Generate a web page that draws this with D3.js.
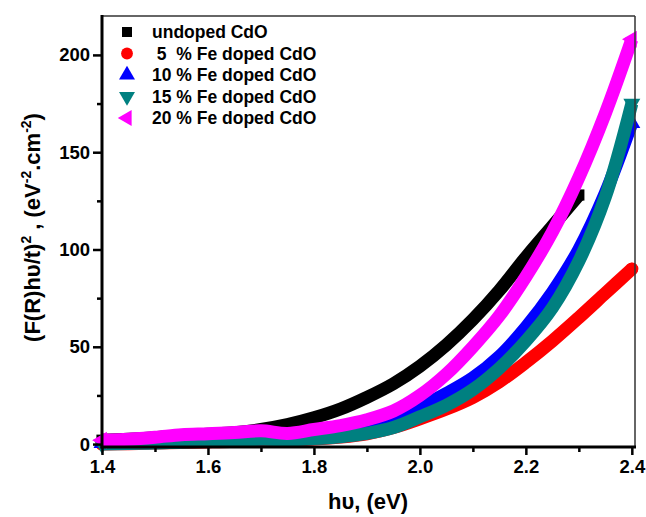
<!DOCTYPE html>
<html>
<head>
<meta charset="utf-8">
<script src="https://cdn.jsdelivr.net/npm/d3@7/dist/d3.min.js"></script>
<style>
  html, body { margin: 0; padding: 0; background: #fff; }
  svg { display: block; font-family: "Liberation Sans", Arial, sans-serif; font-weight: bold; }
  text { white-space: pre; }
</style>
</head>
<body>
<svg id="chart" width="646" height="517"></svg>
<script>
// ---------------- DATA ----------------
const hv = [1.40, 1.45, 1.50, 1.55, 1.60, 1.65, 1.70, 1.75, 1.80, 1.85, 1.90,
            1.95, 2.00, 2.05, 2.10, 2.15, 2.20, 2.25, 2.30, 2.35, 2.40];

const undopedCdO = [2.0, 2.5, 3.3, 4.3, 5.0, 5.8, 7.5, 10.0, 13.5, 18, 24,
                    31, 40, 51, 64, 79, 96, 112, 128, null, null];
const fe5CdO     = [0, 0.2, 0.5, 0.8, 1.1, 1.5, 2.2, 2.0, 2.6, 3.6, 5.3,
                    8.5, 13, 18, 24, 32, 42, 53, 65, 77.5, 90];
const fe10CdO    = [0.5, 0.8, 1.0, 1.3, 1.6, 2.0, 2.8, 2.8, 3.8, 5.5, 8.5,
                    13, 19, 26, 34, 45, 60, 78, 100, 129, 165];
const fe15CdO    = [0, 0.3, 0.5, 1.0, 1.3, 1.7, 2.5, 2.2, 2.8, 3.8, 5.5,
                    8.5, 14, 20, 28, 39, 53, 70, 94, 127, 175];
const fe20CdO    = [2.0, 2.5, 3.5, 4.8, 5.3, 5.9, 6.8, 5.5, 7.5, 9.5, 12.5,
                    17, 25, 36, 50, 66, 86, 109, 137, 170, 208];

const seriesLabels = ["undoped CdO", " 5  % Fe doped CdO", "10 % Fe doped CdO",
                      "15 % Fe doped CdO", "20 % Fe doped CdO"];
const seriesValues = [undopedCdO, fe5CdO, fe10CdO, fe15CdO, fe20CdO];

const xTicks = [1.4, 1.6, 1.8, 2.0, 2.2, 2.4];
const xMinorTicks = [1.5, 1.7, 1.9, 2.1, 2.3];
const yTicks = [0, 50, 100, 150, 200];
const yMinorTicks = [25, 75, 125, 175];

// ---------------- STYLE / LAYOUT ----------------
const colors = ["#000000", "#ff0000", "#0000ff", "#008080", "#ff00ff"];
const symbols = [
  {type: d3.symbolSquare,   rot: 0},
  {type: d3.symbolCircle,   rot: 0},
  {type: d3.symbolTriangle, rot: 0},
  {type: d3.symbolTriangle, rot: 180},
  {type: d3.symbolTriangle, rot: -90}
];

const L = 102, R = 635, T = 16, B = 447;
const svg = d3.select("#chart");

const x = d3.scaleLinear().domain([1.4, 2.406]).range([L, R]);
const y = d3.scaleLinear().domain([-1.5, 220]).range([B, T]);

// ---------------- BANDS ----------------
const bandWidth = 13;
const gData = svg.append("g");
seriesValues.forEach((vals, i) => {
  const pts = hv.map((h, j) => [h, vals[j]]).filter(d => d[1] !== null);
  const line = d3.line()
    .x(d => x(d[0]))
    .y(d => y(d[1]))
    .curve(d3.curveCatmullRom.alpha(0.5));
  gData.append("path")
    .attr("d", line(pts))
    .attr("fill", "none")
    .attr("stroke", colors[i])
    .attr("stroke-width", bandWidth)
    .attr("stroke-linejoin", "round")
    .attr("stroke-linecap", i === 1 ? "round" : "butt");
  [pts[0], pts[pts.length - 1]].forEach(p => {
    gData.append("path")
      .attr("d", d3.symbol().type(symbols[i].type).size(125)())
      .attr("transform", `translate(${x(p[0])},${y(p[1])}) rotate(${symbols[i].rot})`)
      .attr("fill", colors[i]);
  });
});

// ---------------- AXES ----------------
const xAxis = svg.append("g")
  .attr("transform", `translate(0,${B})`)
  .call(d3.axisBottom(x).tickValues(xTicks).tickFormat(d3.format(".1f"))
        .tickSize(8).tickPadding(5));
const xMinor = svg.append("g")
  .attr("transform", `translate(0,${B})`)
  .call(d3.axisBottom(x).tickValues(xMinorTicks).tickFormat("").tickSize(5));
const yAxis = svg.append("g")
  .attr("transform", `translate(${L},0)`)
  .call(d3.axisLeft(y).tickValues(yTicks).tickFormat(d3.format("d"))
        .tickSize(9).tickPadding(3));
const yMinor = svg.append("g")
  .attr("transform", `translate(${L},0)`)
  .call(d3.axisLeft(y).tickValues(yMinorTicks).tickFormat("").tickSize(5));

[xAxis, xMinor, yAxis, yMinor].forEach(g => {
  g.select(".domain").remove();
  g.selectAll(".tick line").attr("stroke", "#000").attr("stroke-width", 2.5);
  g.selectAll(".tick text")
    .attr("fill", "#000")
    .style("font-family", "'Liberation Sans', Arial, sans-serif")
    .style("font-weight", "bold")
    .style("font-size", "18.5px");
});

// frame
svg.append("line").attr("x1", L).attr("x2", R).attr("y1", T).attr("y2", T)
  .attr("stroke", "#333").attr("stroke-width", 1.5);
svg.append("line").attr("x1", R).attr("x2", R).attr("y1", T).attr("y2", B)
  .attr("stroke", "#333").attr("stroke-width", 1.5);
svg.append("line").attr("x1", L).attr("x2", L).attr("y1", T - 1).attr("y2", B + 1.5)
  .attr("stroke", "#000").attr("stroke-width", 3);
svg.append("line").attr("x1", L - 1.5).attr("x2", R + 1).attr("y1", B).attr("y2", B)
  .attr("stroke", "#000").attr("stroke-width", 3);

// ---------------- AXIS TITLES ----------------
svg.append("text")
  .attr("x", (L + R) / 2 - 0.5).attr("y", 509)
  .attr("text-anchor", "middle")
  .style("font-size", "22px")
  .text("hυ, (eV)");

const yt = svg.append("text")
  .attr("transform", `translate(40,${(T + B) / 2 - 4}) rotate(-90)`)
  .attr("text-anchor", "middle")
  .style("font-size", "22px");
yt.append("tspan").text("(F(R)hυ/t)");
yt.append("tspan").attr("dy", -9).style("font-size", "14px").text("2");
yt.append("tspan").attr("dy", 9).text(" , (eV");
yt.append("tspan").attr("dy", -9).style("font-size", "14px").text("-2");
yt.append("tspan").attr("dy", 9).text(".cm");
yt.append("tspan").attr("dy", -9).style("font-size", "14px").text("-2");
yt.append("tspan").attr("dy", 9).text(")");

// ---------------- LEGEND ----------------
const legend = svg.append("g");
seriesLabels.forEach((lab, i) => {
  const cy = 32 + i * 21.5;
  legend.append("path")
    .attr("d", d3.symbol().type(symbols[i].type).size(i === 0 ? 100 : 110)())
    .attr("transform", `translate(127,${cy}) rotate(${symbols[i].rot})`)
    .attr("fill", colors[i]);
  legend.append("text")
    .attr("x", 152).attr("y", cy + 6)
    .style("font-size", "17.5px")
    .text(lab);
});
</script>
</body>
</html>
